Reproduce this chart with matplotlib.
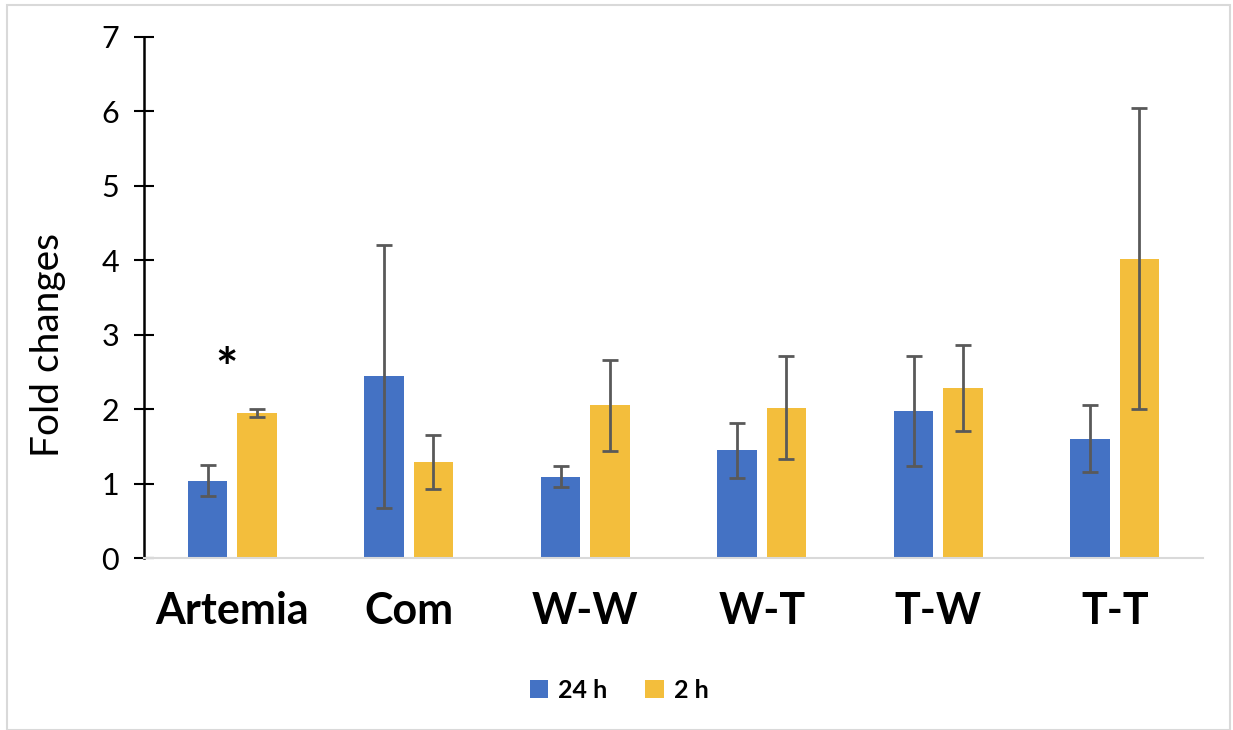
import matplotlib
matplotlib.use("Agg")
import matplotlib.pyplot as plt
from matplotlib.patches import Rectangle
import numpy as np

plt.rcParams['font.family'] = ['Lato', 'DejaVu Sans']

# Data: fold changes per diet group, two sampling times
groups = ["Artemia", "Com", "W-W", "W-T", "T-W", "T-T"]
series_names = ["24 h", "2 h"]
fold_24h = [1.04, 2.44, 1.09, 1.45, 1.97, 1.60]
err_24h = [0.21, 1.77, 0.14, 0.37, 0.74, 0.45]
fold_2h = [1.95, 1.29, 2.05, 2.02, 2.28, 4.02]
err_2h = [0.05, 0.36, 0.61, 0.69, 0.58, 2.02]
y_ticks = [0, 1, 2, 3, 4, 5, 6, 7]

blue = "#4472C4"
gold = "#F3BE3C"
err_color = "#595959"

fig = plt.figure(figsize=(12.33, 7.30), dpi=100)
ax = fig.add_axes([144 / 1233, 1 - 558 / 730, (1203 - 144) / 1233, (558 - 37) / 730])

x = np.arange(len(groups))
w = 0.225
off = 0.14
ekw = dict(ecolor=err_color, elinewidth=2, capsize=6, capthick=2)
ax.bar(x - off, fold_24h, w, color=blue, yerr=err_24h, error_kw=ekw, label=series_names[0], zorder=2)
ax.bar(x + off, fold_2h, w, color=gold, yerr=err_2h, error_kw=ekw, label=series_names[1], zorder=2)

ax.set_xlim(-0.5, len(groups) - 0.5)
ax.set_ylim(0, 7)
ax.set_yticks(y_ticks)
ax.set_yticklabels([str(t) for t in y_ticks], fontsize=22)
ax.tick_params(axis='y', direction='inout', length=14, width=1.5, pad=11, colors='black')
ax.set_xticks(x)
ax.set_xticklabels(groups, fontsize=31, fontweight='bold')
ax.tick_params(axis='x', length=0, pad=24)

for s in ['top', 'right']:
    ax.spines[s].set_visible(False)
ax.spines['left'].set_linewidth(1.8)
ax.spines['left'].set_color('black')
ax.spines['bottom'].set_color('#d9d9d9')
ax.spines['bottom'].set_linewidth(1.5)

# significance mark
ax.text(-0.03, 2.5, "*", fontsize=38, fontweight='bold', ha='center', va='center')

fig.text(48 / 1233, 1 - 345 / 730, "Fold changes", rotation=90, fontsize=28,
         ha='center', va='center')

fig.legend(loc='center', bbox_to_anchor=(619 / 1233, 1 - 690 / 730), ncol=2, frameon=False,
           prop={'size': 18, 'weight': 'bold'}, handlelength=0.75, handleheight=0.75,
           handletextpad=0.4, columnspacing=1.5)

# outer chart frame
fig.patches.append(Rectangle((7 / 1233, 0.5 / 730), (1230 - 7) / 1233, (725 - 0.5) / 730,
                             transform=fig.transFigure, fill=False,
                             edgecolor='#d9d9d9', linewidth=1.5))

fig.savefig("out.png", dpi=100, facecolor='white')
